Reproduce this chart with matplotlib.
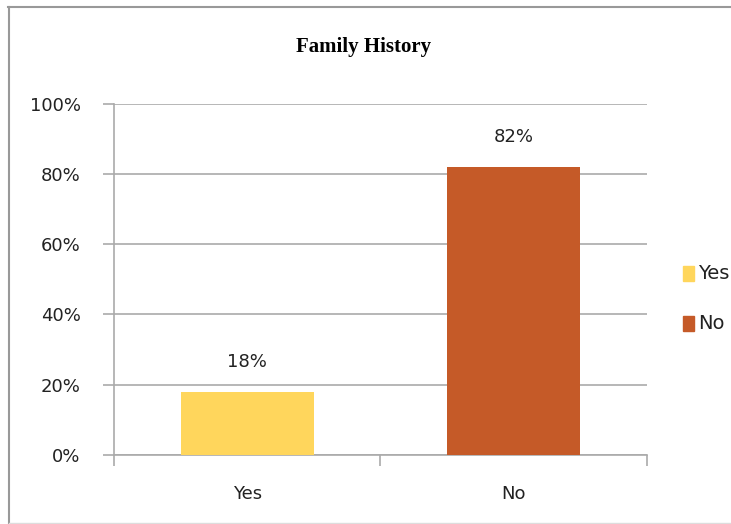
import matplotlib
matplotlib.use("Agg")
import matplotlib.pyplot as plt
from matplotlib.patches import Rectangle
from matplotlib.lines import Line2D

categories = ["Yes", "No"]
values = [18, 82]
colors = ["#FFD65C", "#C55A28"]
yticks = [0, 20, 40, 60, 80, 100]

fig = plt.figure(figsize=(7.31, 5.24), dpi=100)
ax = fig.add_axes([0.156, 0.132, 0.729, 0.670])

x = range(len(categories))
bars = ax.bar(x, values, width=0.5, color=colors, zorder=3)
for b, v in zip(bars, values):
    ax.text(b.get_x() + b.get_width() / 2, v + 6, f"{v}%", ha="center",
            va="bottom", fontsize=13, color="#222222")

ax.set_xlim(-0.5, 1.5)
ax.set_ylim(0, 100)
ax.set_yticks(yticks)
ax.set_yticklabels([f"{t}%" for t in yticks], fontsize=13, color="#222222")
ax.set_xticks([-0.5, 0.5, 1.5], minor=False)
ax.set_xticklabels([])
ax.set_xticks(list(x), minor=True)
ax.set_xticklabels(categories, minor=True, fontsize=13, color="#222222")
ax.tick_params(axis="x", which="minor", length=0, pad=22)
ax.tick_params(axis="x", which="major", length=8, color="#AAAAAA", width=1.2)
ax.tick_params(axis="y", length=8, color="#AAAAAA", width=1.2, pad=16)
ax.yaxis.grid(True, color="#AAAAAA", lw=1.2, zorder=0)
for s in ["top", "right"]:
    ax.spines[s].set_visible(False)
for s in ["left", "bottom"]:
    ax.spines[s].set_color("#AAAAAA")
    ax.spines[s].set_linewidth(1.2)

fig.text(0.497, 0.91, "Family History", ha="center", va="center",
         fontsize=15, fontweight="bold", family="Liberation Serif")

# legend (clipped at the right edge like the reference)
for i, (c, lab) in enumerate(zip(colors, categories)):
    yy = 0.478 - i * 0.095
    fig.patches.append(Rectangle((0.934, yy - 0.014), 0.016, 0.028,
                                 transform=fig.transFigure, color=c))
    fig.text(0.955, yy, lab, va="center", fontsize=14, color="#222222")

# page border: top and left edges, faint bottom
fig.lines.append(Line2D([0.011, 1.0], [0.987, 0.987], transform=fig.transFigure,
                        color="#999999", lw=1.5))
fig.lines.append(Line2D([0.012, 0.012], [0.0, 0.987], transform=fig.transFigure,
                        color="#999999", lw=1.5))
fig.lines.append(Line2D([0.012, 1.0], [0.002, 0.002], transform=fig.transFigure,
                        color="#DDDDDD", lw=1.0))

fig.savefig("out.png", dpi=100)
